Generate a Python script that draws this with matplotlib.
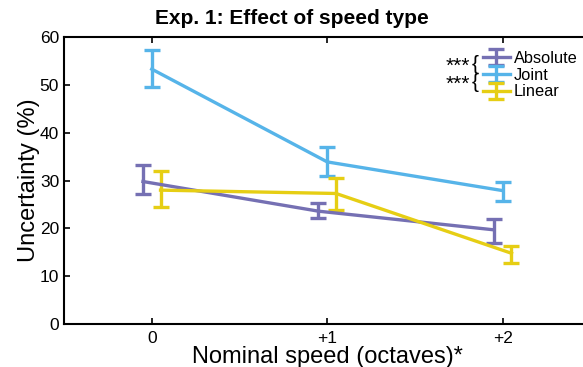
import numpy as np
import matplotlib
matplotlib.use('Agg')
import matplotlib.pyplot as plt

plt.rcParams['font.family'] = ['Liberation Sans', 'DejaVu Sans']

# data
speeds = [0, 1, 2]
speed_labels = ['0', '+1', '+2']
names = ['Absolute', 'Joint', 'Linear']
absolute_mean = [29.8, 23.6, 19.7]
absolute_lo = [27.1, 22.1, 16.9]
absolute_hi = [33.2, 25.4, 22.0]
joint_mean = [53.3, 33.9, 27.9]
joint_lo = [49.5, 30.9, 25.7]
joint_hi = [57.2, 37.0, 29.8]
linear_mean = [28.0, 27.3, 14.8]
linear_lo = [24.4, 23.8, 12.8]
linear_hi = [32.1, 30.5, 16.4]

colors = ['#7570B3', '#56B4E9', '#E6CE14']
offsets = [-0.05, 0.0, 0.05]

fig = plt.figure(figsize=(5.83, 3.67), dpi=100)
ax = fig.add_axes([0.1098, 0.117, 0.903, 0.782])

series = [(absolute_mean, absolute_lo, absolute_hi),
          (joint_mean, joint_lo, joint_hi),
          (linear_mean, linear_lo, linear_hi)]
handles = []
for (m, lo, hi), name, c, off in zip(series, names, colors, offsets):
    m = np.array(m)
    err = [m - np.array(lo), np.array(hi) - m]
    x = np.array(speeds) + off
    h = ax.errorbar(x, m, yerr=err, color=c, lw=2.4, elinewidth=2.4,
                    capsize=5.5, capthick=2.4, label=name)
    handles.append(h)

ax.set_xlim(-0.5, 2.5)
ax.set_ylim(0, 60)
ax.set_xticks(speeds)
ax.set_xticklabels(speed_labels)
ax.set_yticks(range(0, 61, 10))
ax.tick_params(direction='in', length=4, width=1.2, labelsize=12.5, top=True, right=True)
ax.tick_params(axis='x', pad=5)
for s in ax.spines.values():
    s.set_linewidth(1.5)

# title is centred on the figure, not the axes
fig.text(0.5, 1 - 18 / 367, 'Exp. 1: Effect of speed type', ha='center', va='center',
         fontsize=15, fontweight='bold')
ax.set_xlabel('Nominal speed (octaves)*', fontsize=17, labelpad=0)
ax.set_ylabel('Uncertainty (%)', fontsize=17, labelpad=0)

leg = ax.legend(handles=handles, loc='upper left', bbox_to_anchor=(476 / 583, 1 - 44 / 367),
                bbox_transform=fig.transFigure, frameon=False, fontsize=11.8,
                handlelength=1.65, handletextpad=0.25, labelspacing=0.12, borderaxespad=0)

# significance markers
for yp in [66, 84]:
    fig.text(458 / 583, 1 - yp / 367, '***', ha='center', va='center', fontsize=15)
    fig.text(475 / 583, 1 - (yp - 1) / 367, '{', ha='center', va='center', fontsize=15)

fig.savefig('out.png', dpi=100)
